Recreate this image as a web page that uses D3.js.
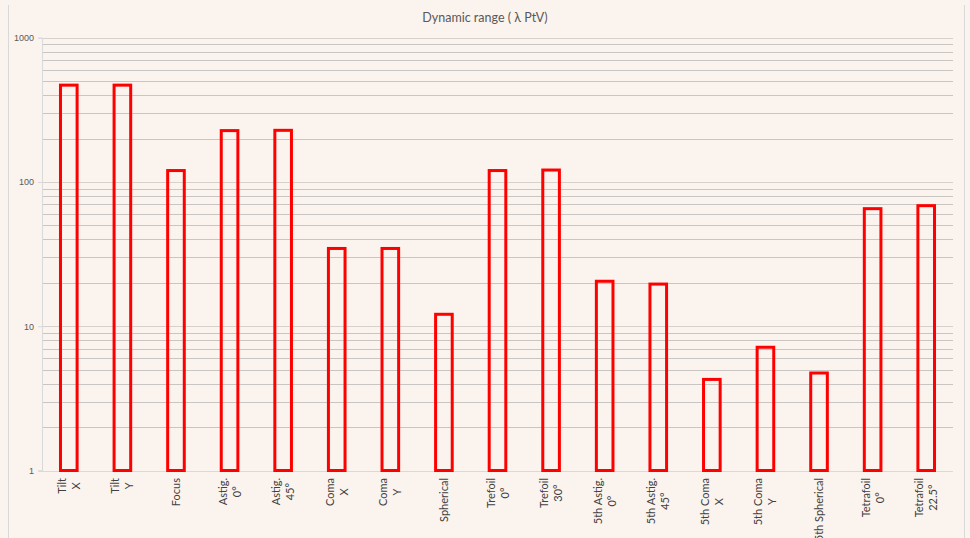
<!DOCTYPE html>
<html>
<head>
<meta charset="utf-8">
<script src="https://cdn.jsdelivr.net/npm/d3@7"></script>
<style>
  body { margin: 0; background: #fbf3ee; }
  svg { display: block; font-family: Lato, "Open Sans", sans-serif; }
</style>
</head>
<body>
<div id="chart"></div>
<script>
// zernike terms, each label split in lines
const categories = [
  "Tilt\nX", "Tilt\nY", "Focus", "Astig.\n0°", "Astig.\n45°", "Coma\nX", "Coma\nY",
  "Spherical", "Trefoil\n0°", "Trefoil\n30°", "5th Astig.\n0°", "5th Astig.\n45°",
  "5th Coma\nX", "5th Coma\nY", "5th Spherical", "Tetrafoil\n0°", "Tetrafoil\n22.5°"
];
// the picture has 17 bars
const values = [469, 469, 120, 227, 228, 34.6, 34.6, 12.1, 120, 121, 20.5, 19.6, 4.28, 7.15, 4.74, 65.3, 68.5];
const yTicks = [1, 10, 100, 1000];
const title = "Dynamic range ( λ PtV)";

const width = 970, height = 538;
const plot = { left: 42, right: 953, top: 37.7, bottom: 470.5 };

const svg = d3.select("#chart").append("svg")
  .attr("width", width)
  .attr("height", height);

svg.append("rect")
  .attr("width", width).attr("height", height)
  .attr("fill", "#fbf3ee");

// chart area border (only sides show)
svg.append("line").attr("x1", 8.5).attr("x2", 8.5).attr("y1", 5).attr("y2", height)
  .attr("stroke", "#d9d9d9");
svg.append("line").attr("x1", 964.5).attr("x2", 964.5).attr("y1", 5).attr("y2", height)
  .attr("stroke", "#d9d9d9");

const x = d3.scaleBand()
  .domain(categories)
  .range([plot.left, plot.right]);

const y = d3.scaleLog()
  .domain([1, 1000])
  .range([plot.bottom, plot.top]);

// gridlines, major + minor
const gridVals = [];
for (let d = 1; d < 1000; d *= 10) {
  for (let k = 1; k < 10; k++) gridVals.push(d * k);
}
gridVals.push(1000);

svg.append("g")
  .selectAll("line")
  .data(gridVals.filter(v => v > 1))
  .join("line")
  .attr("x1", plot.left)
  .attr("x2", plot.right)
  .attr("y1", d => Math.round(y(d)) + 0.5)
  .attr("y2", d => Math.round(y(d)) + 0.5)
  .attr("stroke", d => yTicks.includes(d) ? "#d6d1cd" : "#c9c5c2")
  .attr("stroke-width", 1);

// y axis
const yAxis = svg.append("g")
  .attr("transform", `translate(${plot.left},0)`)
  .call(d3.axisLeft(y).tickValues(yTicks).tickFormat(d3.format("d")).tickSize(4).tickPadding(4));
yAxis.select(".domain").attr("stroke", "#d9d9d9");
yAxis.selectAll(".tick line").attr("stroke", "#d9d9d9");
yAxis.selectAll(".tick text")
  .attr("fill", "#595959")
  .style("font-size", "9px");

// x axis line
svg.append("line")
  .attr("x1", plot.left - 3).attr("x2", plot.right)
  .attr("y1", Math.round(plot.bottom) + 0.5).attr("y2", Math.round(plot.bottom) + 0.5)
  .attr("stroke", "#d9d9d9");

// bars
const barW = x.bandwidth() * 0.31;
svg.append("g")
  .selectAll("rect")
  .data(values)
  .join("rect")
  .attr("x", (d, i) => x(categories[i]) + (x.bandwidth() - barW) / 2)
  .attr("y", d => y(d))
  .attr("width", barW)
  .attr("height", d => y(1) - y(d))
  .attr("fill", "none")
  .attr("stroke", "#ff0000")
  .attr("stroke-width", 3);

// category labels, rotated, lines centered on each other, top aligned
const lineH = 14;
const labelTop = 478;
const labels = svg.append("g")
  .selectAll("g")
  .data(categories)
  .join("g")
  .attr("transform", d => `translate(${x(d) + x.bandwidth() / 2},${labelTop}) rotate(-90)`);

labels.each(function (d) {
  const g = d3.select(this);
  const lines = d.split("\n");
  const texts = g.selectAll("text")
    .data(lines)
    .join("text")
    .attr("fill", "#404040")
    .style("font-size", "11px")
    .attr("text-anchor", "middle")
    .attr("y", (l, i) => (i - (lines.length - 1) / 2) * lineH + 4)
    .text(l => l);
  let maxW = 0;
  texts.each(function () { maxW = Math.max(maxW, this.getComputedTextLength()); });
  texts.attr("x", -maxW / 2);
});

// title
svg.append("text")
  .attr("x", 485)
  .attr("y", 22)
  .attr("text-anchor", "middle")
  .attr("fill", "#595959")
  .style("font-size", "12.5px")
  .text(title);
</script>
</body>
</html>
